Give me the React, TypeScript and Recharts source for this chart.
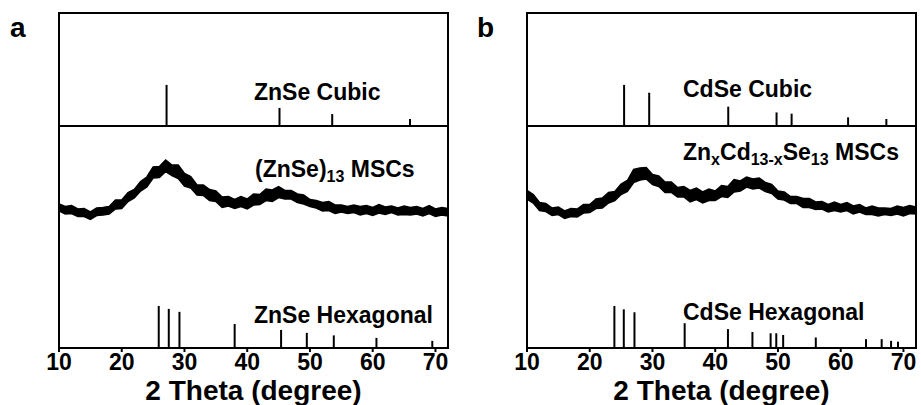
import React from "react"
import { BarChart, Bar, AreaChart, Area, XAxis, YAxis } from "recharts"

const FONT = "'Liberation Sans', Arial, Helvetica, sans-serif"

// 2 theta grid of the measured patterns
const twoTheta = [
  10, 11, 12, 13, 14, 15, 16, 17, 18, 19, 20, 21, 22, 23, 24, 25, 26, 27, 28, 29, 30, 31,
  32, 33, 34, 35, 36, 37, 38, 39, 40, 41, 42, 43, 44, 45, 46, 47, 48, 49, 50, 51, 52, 53,
  54, 55, 56, 57, 58, 59, 60, 61, 62, 63, 64, 65, 66, 67, 68, 69, 70, 71, 72,
]

// (ZnSe)13 MSCs - mean counts and noise spread above / below
const znseMsc = [
  1400, 1390, 1370, 1360, 1350, 1340, 1350, 1370, 1390, 1420, 1450, 1500, 1550, 1600, 1670,
  1740, 1770, 1800, 1780, 1740, 1690, 1640, 1590, 1560, 1540, 1510, 1480, 1460, 1450, 1450,
  1450, 1470, 1490, 1510, 1530, 1550, 1540, 1520, 1510, 1480, 1460, 1430, 1420, 1410, 1400,
  1390, 1390, 1380, 1380, 1380, 1380, 1380, 1380, 1380, 1380, 1370, 1370, 1370, 1370, 1370,
  1360, 1360, 1360,
]
const znseNoiseUp = [
  40, 25, 55, 30, 45, 20, 50, 35, 25, 60, 30, 55, 35, 65, 40, 70, 45, 80, 50, 90, 55, 75, 40,
  70, 45, 60, 30, 55, 35, 65, 40, 70, 45, 80, 50, 65, 35, 55, 30, 50, 25, 45, 35, 55, 30, 40,
  25, 50, 35, 45, 25, 55, 30, 40, 20, 50, 35, 45, 25, 55, 30, 45, 35,
]
const znseNoiseDown = [
  30, 50, 25, 45, 35, 55, 25, 40, 50, 30, 55, 35, 50, 30, 60, 40, 65, 35, 55, 45, 70, 40, 60,
  35, 65, 45, 75, 40, 55, 35, 60, 40, 55, 35, 65, 45, 50, 30, 55, 40, 45, 30, 50, 35, 55, 30,
  45, 25, 50, 35, 55, 30, 45, 25, 50, 35, 40, 30, 50, 25, 45, 30, 40,
]

// ZnxCd13-xSe13 MSCs
const alloyMsc = [
  1540, 1480, 1430, 1400, 1370, 1360, 1350, 1350, 1360, 1380, 1400, 1430, 1460, 1490, 1530,
  1570, 1630, 1700, 1750, 1730, 1690, 1650, 1620, 1600, 1570, 1550, 1530, 1520, 1510, 1520,
  1530, 1550, 1570, 1600, 1620, 1640, 1650, 1640, 1620, 1580, 1540, 1510, 1490, 1470, 1460,
  1440, 1430, 1420, 1410, 1410, 1400, 1400, 1390, 1390, 1380, 1370, 1370, 1360, 1370, 1370,
  1370, 1380, 1380,
]
const alloyNoiseUp = [
  35, 55, 25, 45, 30, 50, 20, 45, 30, 55, 35, 60, 40, 65, 35, 70, 45, 85, 50, 75, 45, 70, 40,
  60, 35, 65, 45, 80, 50, 70, 40, 75, 45, 85, 50, 70, 40, 60, 35, 55, 30, 50, 25, 45, 35, 55,
  30, 45, 25, 50, 35, 55, 30, 45, 20, 50, 30, 40, 25, 50, 35, 45, 30,
]
const alloyNoiseDown = [
  50, 30, 55, 35, 45, 25, 55, 35, 50, 30, 45, 35, 60, 40, 55, 35, 65, 45, 70, 40, 55, 35, 65,
  45, 60, 40, 70, 35, 60, 45, 55, 35, 65, 40, 50, 30, 60, 40, 55, 35, 50, 30, 45, 25, 55, 35,
  45, 30, 50, 35, 40, 25, 50, 30, 45, 35, 50, 25, 45, 30, 50, 35, 40,
]

// reference patterns: peak position (2 theta) and relative intensity
const znseCubicPos = [27.2, 45.2, 53.6, 66.0]
const znseCubicInt = [100, 44, 29, 17]
const znseHexPos = [25.9, 27.5, 29.2, 38.0, 45.4, 49.5, 53.8, 60.6, 69.5]
const znseHexInt = [100, 93, 86, 57, 43, 36, 30, 24, 17]
const cdseCubicPos = [25.4, 29.4, 42.0, 49.7, 52.1, 61.1, 67.2]
const cdseCubicInt = [100, 81, 47, 33, 30, 21, 17]
const cdseHexPos = [23.9, 25.4, 27.1, 35.1, 42.0, 45.9, 48.8, 49.7, 50.8, 56.0, 64.0, 66.5, 68.0, 69.1]
const cdseHexInt = [100, 92, 85, 59, 45, 38, 35, 35, 31, 25, 21, 21, 17, 15]

const xTicks = [10, 20, 30, 40, 50, 60, 70]
const xDomain: [number, number] = [10, 72]

const sticks = (pos: number[], inten: number[]) => pos.map((p, i) => ({ t: p, i: inten[i] }))
const pattern = (y: number[], up: number[], down: number[]) =>
  twoTheta.map((t, i) => ({ t, band: [y[i] - down[i], y[i] + up[i]] }))

// layout
const PLOT_W = 389
const TOP_Y = 13
const MID_Y = 126
const BASE_Y = 348
const TOP_H = MID_Y - TOP_Y
const LOW_H = BASE_Y - MID_Y
const AXIS_H = 57
const PAD = 24

const Tick = ({ x, y, payload }: any) => (
  <text x={x} y={y} dy={16} textAnchor="middle" fontSize={23} fontWeight="bold" fontFamily={FONT} fill="#000">
    {payload.value}
  </text>
)

type PanelProps = {
  left: number
  cubic: { t: number; i: number }[]
  hex: { t: number; i: number }[]
  curve: { t: number; band: number[] }[]
}

function Panel({ left, cubic, hex, curve }: PanelProps) {
  const box = (top: number, h: number) => (
    <div
      style={{
        position: "absolute",
        left: left - 1,
        top: top - 1,
        width: PLOT_W + 2,
        height: h + 2,
        border: "2px solid #000",
        boxSizing: "border-box",
        pointerEvents: "none",
      }}
    />
  )
  return (
    <>
      <div style={{ position: "absolute", left, top: TOP_Y }}>
        <BarChart width={PLOT_W} height={TOP_H} data={cubic} margin={{ top: 0, right: 0, bottom: 0, left: 0 }}>
          <XAxis dataKey="t" type="number" domain={xDomain} hide />
          <YAxis type="number" domain={[0, 275]} hide />
          <Bar dataKey="i" fill="#000" barSize={2} isAnimationActive={false} />
        </BarChart>
      </div>
      <div style={{ position: "absolute", left: left - PAD, top: MID_Y }}>
        <BarChart
          width={PLOT_W + 2 * PAD}
          height={LOW_H + AXIS_H}
          data={hex}
          margin={{ top: 0, right: PAD, bottom: 0, left: PAD }}
        >
          <XAxis
            dataKey="t"
            type="number"
            domain={xDomain}
            ticks={xTicks}
            height={AXIS_H}
            axisLine={false}
            tickLine={{ stroke: "#000", strokeWidth: 2 }}
            tickSize={4}
            tick={<Tick />}
            interval={0}
          />
          <YAxis type="number" domain={[0, 528]} hide />
          <Bar dataKey="i" fill="#000" barSize={2} isAnimationActive={false} />
        </BarChart>
      </div>
      <div style={{ position: "absolute", left, top: MID_Y }}>
        <AreaChart width={PLOT_W} height={LOW_H} data={curve} margin={{ top: 0, right: 0, bottom: 0, left: 0 }}>
          <XAxis dataKey="t" type="number" domain={xDomain} hide />
          <YAxis type="number" domain={[0, LOW_H * 10]} hide />
          <Area
            type="linear"
            dataKey="band"
            stroke="#000"
            strokeWidth={1.5}
            fill="#000"
            fillOpacity={1}
            dot={false}
            activeDot={false}
            isAnimationActive={false}
          />
        </AreaChart>
      </div>
      {box(TOP_Y, TOP_H)}
      {box(MID_Y, LOW_H)}
    </>
  )
}

export default function App() {
  const A = 59
  const B = 527
  const txt = { fontFamily: FONT, fontWeight: "bold" as const, fill: "#000" }
  return (
    <div style={{ position: "absolute", left: 0, top: 0, width: 921, height: 405, background: "#fff", overflow: "hidden" }}>
      <Panel left={A} cubic={sticks(znseCubicPos, znseCubicInt)} hex={sticks(znseHexPos, znseHexInt)} curve={pattern(znseMsc, znseNoiseUp, znseNoiseDown)} />
      <Panel left={B} cubic={sticks(cdseCubicPos, cdseCubicInt)} hex={sticks(cdseHexPos, cdseHexInt)} curve={pattern(alloyMsc, alloyNoiseUp, alloyNoiseDown)} />
      <svg width={921} height={405} style={{ position: "absolute", left: 0, top: 0, pointerEvents: "none" }}>
        <text x={10} y={37} fontSize={28} {...txt}>a</text>
        <text x={477} y={37} fontSize={28} {...txt}>b</text>

        <text x={254} y={100} fontSize={23} {...txt}>ZnSe Cubic</text>
        <text x={255} y={177} fontSize={23} {...txt}>
          (ZnSe)<tspan fontSize={16} dy={5}>13</tspan>
          <tspan dy={-5}> MSCs</tspan>
        </text>
        <text x={254} y={323} fontSize={23} {...txt}>ZnSe Hexagonal</text>

        <text x={683} y={97} fontSize={23} {...txt}>CdSe Cubic</text>
        <text x={683} y={160} fontSize={23} {...txt}>
          Zn<tspan fontSize={16} dy={5}>x</tspan>
          <tspan dy={-5}>Cd</tspan>
          <tspan fontSize={16} dy={5}>13-x</tspan>
          <tspan dy={-5}>Se</tspan>
          <tspan fontSize={16} dy={5}>13</tspan>
          <tspan dy={-5}> MSCs</tspan>
        </text>
        <text x={683} y={320} fontSize={23} {...txt}>CdSe Hexagonal</text>

        <text x={A + PLOT_W / 2} y={400} fontSize={28} textAnchor="middle" {...txt}>2 Theta (degree)</text>
        <text x={B + PLOT_W / 2} y={400} fontSize={28} textAnchor="middle" {...txt}>2 Theta (degree)</text>
      </svg>
    </div>
  )
}
